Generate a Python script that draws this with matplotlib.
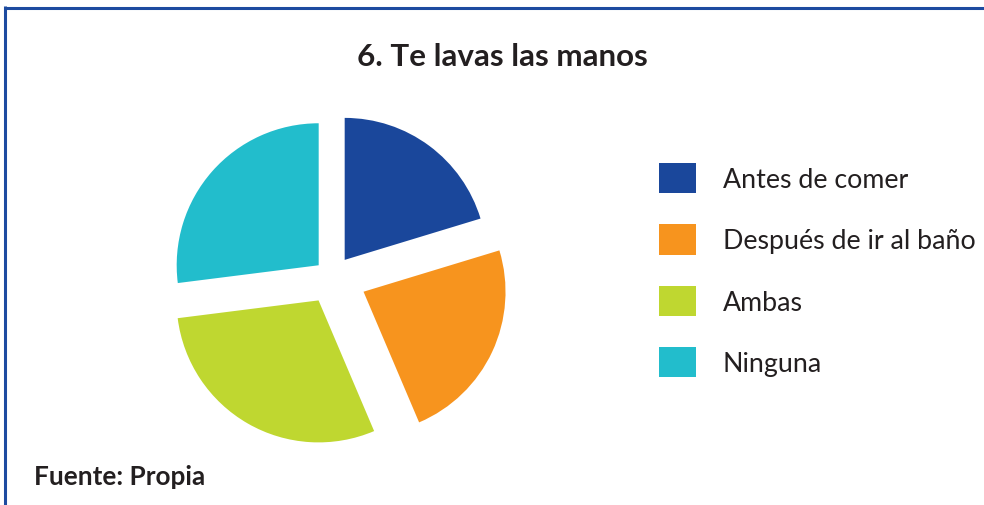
import matplotlib
matplotlib.use("Agg")
import matplotlib.pyplot as plt
from matplotlib.lines import Line2D

plt.rcParams['font.family'] = ['Lato', 'DejaVu Sans']

categories = ["Antes de comer", "Después de ir al baño", "Ambas", "Ninguna"]
values = [20.3, 23.3, 29.4, 27.0]
colors = ["#1a479b", "#f7941e", "#bfd730", "#22bdcc"]
title = "6. Te lavas las manos"
source = "Fuente: Propia"

W, H = 984, 506
fig = plt.figure(figsize=(W / 100, H / 100), dpi=100)
fig.patch.set_facecolor("white")

# pie axes: center and radius in px
cx, cy, r = 332, 278, 142
lim = 1.4
aw, ah = 2 * lim * r, 2 * lim * r
ax = fig.add_axes([(cx - aw / 2) / W, (H - cy - ah / 2) / H, aw / W, ah / H])
wedges, _ = ax.pie(values, colors=colors, startangle=90, counterclock=False,
                   explode=[0.15, 0.245, 0.19, 0.125], radius=1.0,
                   wedgeprops=dict(linewidth=0))
ax.set_xlim(-lim, lim)
ax.set_ylim(-lim, lim)
ax.set_aspect("equal")
ax.axis("off")

fig.text(502 / W, 1 - 57 / H, title, ha="center", va="center",
         fontsize=22.6, fontweight="bold", color="#231f20")
fig.text(34 / W, 1 - 477 / H, source, ha="left", va="center",
         fontsize=18.8, fontweight="bold", color="#231f20")

leg = fig.legend(wedges, categories, loc="upper left",
                 bbox_to_anchor=(659 / W, 1 - 164 / H),
                 frameon=False, fontsize=19.3, handlelength=1.37,
                 handleheight=1.37, labelspacing=1.15, handletextpad=1.0,
                 borderpad=0, borderaxespad=0)
for t in leg.get_texts():
    t.set_color("#231f20")

# frame border
bc = "#1d4ba0"
fig.add_artist(Line2D([5 / W, 1.0], [1 - 8.5 / H, 1 - 8.5 / H], transform=fig.transFigure,
                      color=bc, linewidth=2.2, solid_capstyle="butt"))
fig.add_artist(Line2D([5 / W, 5 / W], [1 - 7.4 / H, 0.0], transform=fig.transFigure,
                      color=bc, linewidth=2.2, solid_capstyle="butt"))

fig.savefig("out.png", dpi=100, facecolor="white")
